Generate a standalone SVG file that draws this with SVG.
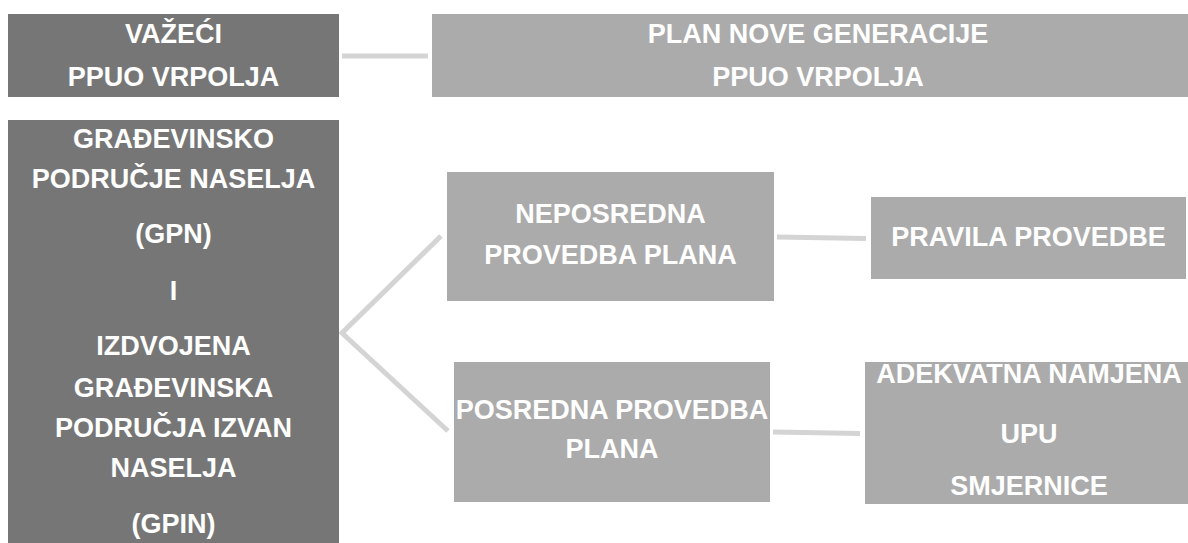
<svg xmlns="http://www.w3.org/2000/svg" width="1188" height="543" viewBox="0 0 1188 543">
<style>
.dark{fill:#767676}
.light{fill:#ababab}
text{font-family:"Liberation Sans",Arial,sans-serif;font-weight:bold;font-size:27px;fill:#ffffff;text-anchor:middle}
.conn{stroke:#d4d4d4;stroke-width:5;fill:none}
</style>
<rect width="1188" height="543" fill="#ffffff"/>
<g id="connectors">
<line class="conn" x1="342" y1="56" x2="428" y2="56"/>
<polyline class="conn" points="441,236 342,333 448,431"/>
<line class="conn" x1="777" y1="237" x2="866" y2="238.5"/>
<line class="conn" x1="773" y1="432" x2="860" y2="433.5"/>
</g>
<g id="vazeci">
<rect class="dark" x="8" y="14" width="331" height="83"/>
<text x="173.5" y="43">VAŽEĆI</text>
<text x="173.5" y="86">PPUO VRPOLJA</text>
</g>
<g id="plan-nove">
<rect class="light" x="432" y="14" width="756" height="83"/>
<text x="818" y="43">PLAN NOVE GENERACIJE</text>
<text x="818" y="86">PPUO VRPOLJA</text>
</g>
<g id="gpn">
<rect class="dark" x="8" y="120" width="331" height="423"/>
<text x="173.5" y="148">GRAĐEVINSKO</text>
<text x="173.5" y="188">PODRUČJE NASELJA</text>
<text x="173.5" y="243">(GPN)</text>
<text x="173.5" y="300">I</text>
<text x="173.5" y="355">IZDVOJENA</text>
<text x="173.5" y="397">GRAĐEVINSKA</text>
<text x="173.5" y="437">PODRUČJA IZVAN</text>
<text x="173.5" y="477">NASELJA</text>
<text x="173.5" y="533">(GPIN)</text>
</g>
<g id="neposredna">
<rect class="light" x="447" y="172" width="327" height="129"/>
<text x="610.5" y="223">NEPOSREDNA</text>
<text x="610.5" y="264">PROVEDBA PLANA</text>
</g>
<g id="posredna">
<rect class="light" x="454" y="362" width="316" height="140"/>
<text x="612" y="419">POSREDNA PROVEDBA</text>
<text x="612" y="458">PLANA</text>
</g>
<g id="pravila">
<rect class="light" x="871" y="197" width="315" height="82"/>
<text x="1028.5" y="246">PRAVILA PROVEDBE</text>
</g>
<g id="adekvatna">
<rect class="light" x="865" y="362" width="323" height="142"/>
<text x="1029" y="383">ADEKVATNA NAMJENA</text>
<text x="1029" y="443">UPU</text>
<text x="1029" y="495">SMJERNICE</text>
</g>
</svg>
